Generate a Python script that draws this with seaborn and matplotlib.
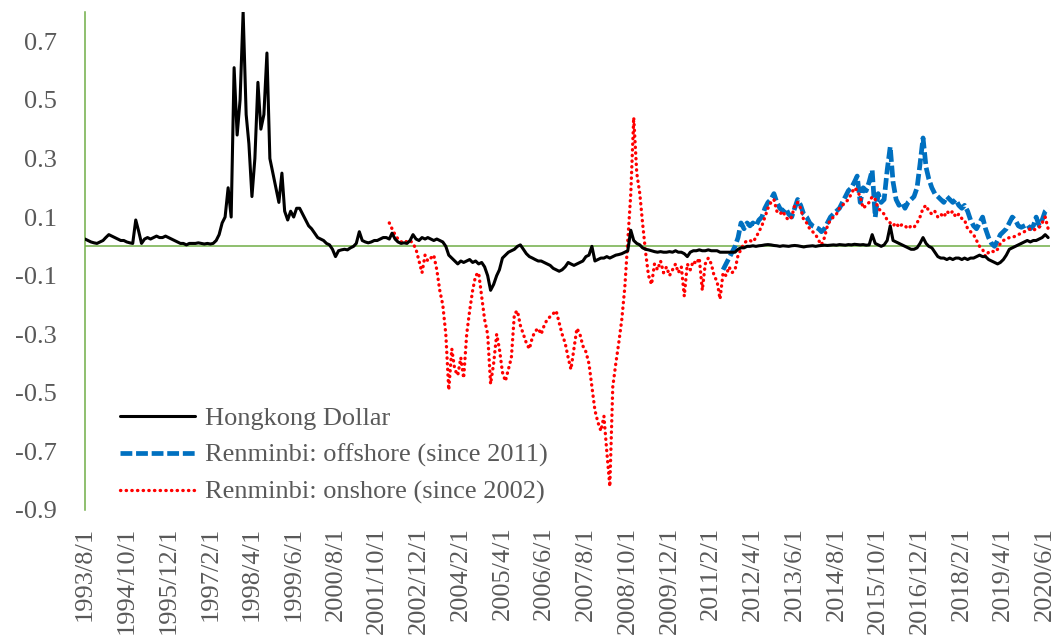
import pandas as pd
import matplotlib
matplotlib.use("Agg")
import matplotlib.pyplot as plt
import seaborn as sns

# monthly values
# Hongkong Dollar, from 1993/8
hkd = [0.025, 0.02, 0.015, 0.012, 0.01, 0.015, 0.02, 0.03, 0.04, 0.035, 0.03, 0.025, 0.02, 0.02, 0.015, 0.012, 0.01,
       0.09, 0.05, 0.01, 0.025, 0.03, 0.025, 0.03, 0.035, 0.03, 0.03, 0.035, 0.03, 0.025, 0.02, 0.015, 0.01, 0.01,
       0.005, 0.01, 0.01, 0.01, 0.012, 0.01, 0.008, 0.01, 0.008, 0.01, 0.02, 0.04, 0.08, 0.1, 0.2, 0.1,
       0.61, 0.38, 0.5, 0.8, 0.45, 0.35, 0.17, 0.3, 0.56, 0.4, 0.45, 0.66, 0.3, 0.25, 0.2, 0.15, 0.25, 0.12,
       0.09, 0.12, 0.1, 0.13, 0.13, 0.11, 0.09, 0.07, 0.06, 0.045, 0.03, 0.025, 0.02, 0.01, 0.005, -0.01, -0.035, -0.015,
       -0.012, -0.01, -0.012, -0.005, 0.0, 0.01, 0.05, 0.02, 0.015, 0.012, 0.015, 0.02, 0.02, 0.025, 0.03, 0.03,
       0.025, 0.045, 0.025, 0.015, 0.01, 0.012, 0.01, 0.02, 0.04, 0.025, 0.02, 0.03, 0.025, 0.03, 0.025, 0.02,
       0.025, 0.02, 0.015, 0.0, -0.03, -0.04, -0.05, -0.06, -0.05, -0.055, -0.05, -0.045, -0.055, -0.05, -0.06,
       -0.055, -0.07, -0.1, -0.15, -0.13, -0.1, -0.08, -0.04, -0.03, -0.02, -0.015, -0.01, 0.0, 0.005, -0.01,
       -0.025, -0.035, -0.04,
       -0.045, -0.05, -0.05, -0.055, -0.06, -0.065, -0.075, -0.08, -0.085, -0.08, -0.07, -0.055, -0.06, -0.065,
       -0.06, -0.055, -0.05, -0.035, -0.03, 0.0, -0.05, -0.045, -0.04, -0.04, -0.035, -0.04, -0.035, -0.03,
       -0.028, -0.025, -0.02, -0.015, 0.055, 0.02, 0.01, 0.005, -0.005, -0.01, -0.012, -0.015, -0.018, -0.02,
       -0.018, -0.02, -0.02, -0.018, -0.02, -0.015, -0.02, -0.02, -0.025, -0.035, -0.02, -0.015, -0.015, -0.012,
       -0.015, -0.015, -0.012, -0.015,
       -0.015, -0.015, -0.02, -0.02, -0.02, -0.02, -0.02, -0.02, -0.01, -0.005, -0.005, 0.0, 0.0, 0.002, 0.0,
       0.002, 0.003, 0.005, 0.006, 0.005, 0.003, 0.002, 0.0, 0.002, 0.001, 0.0, 0.002, 0.003, 0.002, 0.0, -0.002,
       0.0, 0.001, 0.002, 0.0, 0.002, 0.003, 0.004, 0.003, 0.004, 0.005, 0.004, 0.006, 0.005, 0.004, 0.006, 0.005,
       0.007, 0.006, 0.005, 0.006, 0.004, 0.005,
       0.04, 0.01, 0.005, 0.0, 0.005, 0.02, 0.07, 0.02, 0.015, 0.01, 0.005, 0.0, -0.005, -0.01, -0.01, -0.005,
       0.01, 0.03, 0.01, 0.0, -0.005, -0.02, -0.035, -0.04, -0.04, -0.045, -0.04, -0.045, -0.04, -0.04, -0.045,
       -0.04, -0.045, -0.04, -0.04, -0.035, -0.03, -0.035, -0.035, -0.045, -0.05, -0.055, -0.06, -0.055, -0.045,
       -0.03, -0.01, -0.005, 0.0, 0.005, 0.01, 0.015, 0.02, 0.015, 0.02, 0.02, 0.025, 0.03, 0.04, 0.03]

# Renminbi offshore, from 2011/6
cnh = [-0.08, -0.06, -0.04, -0.02, 0.0, 0.03, 0.08, 0.06, 0.08, 0.07,
       0.08, 0.07, 0.09, 0.1, 0.13, 0.15, 0.16, 0.18, 0.15, 0.13,
       0.12, 0.13, 0.11, 0.1, 0.13, 0.16, 0.14, 0.11, 0.1, 0.08,
       0.07, 0.065, 0.06, 0.05, 0.06, 0.08, 0.1, 0.11, 0.12, 0.13,
       0.15, 0.17, 0.19, 0.2, 0.22, 0.24, 0.15, 0.2, 0.19, 0.22,
       0.26, 0.1, 0.18, 0.15, 0.16, 0.26, 0.34, 0.22, 0.16, 0.14,
       0.15, 0.13, 0.15, 0.16, 0.17, 0.2, 0.28, 0.37, 0.27, 0.23,
       0.2, 0.18, 0.17, 0.16, 0.15, 0.17, 0.16, 0.15, 0.16, 0.14,
       0.13, 0.14, 0.12, 0.09, 0.07, 0.06, 0.08, 0.1, 0.06, 0.03,
       0.01, 0.0, 0.02, 0.04, 0.05, 0.06, 0.08, 0.1, 0.09, 0.07,
       0.065, 0.07, 0.075, 0.06, 0.07, 0.1, 0.07, 0.09, 0.12, 0.13]

# Renminbi onshore, from 2002/2
cny = [0.08, 0.06, 0.04, 0.025, 0.015, 0.02, 0.015, 0.02, 0.01, -0.01, -0.05, -0.09, -0.03, -0.05, -0.04,
       -0.03, -0.08, -0.15, -0.2, -0.3,
       -0.49, -0.35, -0.42, -0.44, -0.38, -0.45, -0.3, -0.22, -0.15, -0.1, -0.09, -0.17, -0.25, -0.3, -0.47,
       -0.4, -0.3, -0.35, -0.43, -0.46, -0.42, -0.38, -0.23, -0.22, -0.27, -0.3, -0.33, -0.35, -0.31,
       -0.29, -0.28, -0.3, -0.27, -0.25, -0.24, -0.23, -0.22, -0.26, -0.3, -0.33, -0.38, -0.42, -0.35, -0.28,
       -0.3, -0.34, -0.36, -0.4, -0.48, -0.56, -0.6, -0.63, -0.58, -0.7, -0.82, -0.48, -0.4, -0.33, -0.25, -0.14,
       0.02, 0.18, 0.44, 0.25, 0.18, 0.08, -0.02, -0.1, -0.13, -0.06, -0.08, -0.05, -0.09, -0.07, -0.1, -0.08,
       -0.06, -0.09, -0.07, -0.17, -0.06, -0.08, -0.05, -0.06, -0.04, -0.15, -0.06, -0.04, -0.06, -0.1, -0.12,
       -0.18, -0.09, -0.1, -0.07, -0.09, -0.08,
       -0.03, -0.01, 0.01, 0.02, 0.02, 0.015, 0.03, 0.05, 0.07, 0.1, 0.13, 0.15, 0.16, 0.12, 0.11, 0.12, 0.1,
       0.09, 0.1, 0.14, 0.15, 0.13, 0.09, 0.08, 0.06, 0.05, 0.04, 0.02, 0.005, 0.03, 0.07, 0.09, 0.1, 0.11,
       0.13, 0.14, 0.15, 0.16, 0.18, 0.2, 0.19, 0.17,
       0.13, 0.14, 0.15, 0.17, 0.16, 0.13, 0.12, 0.11, 0.09, 0.08, 0.07, 0.08, 0.065, 0.075, 0.07, 0.06, 0.07,
       0.065, 0.08, 0.1, 0.13, 0.14, 0.12, 0.11, 0.12, 0.1, 0.11, 0.1, 0.12, 0.11, 0.12, 0.1, 0.11, 0.095, 0.09,
       0.06, 0.05, 0.04, 0.02, 0.0, -0.01, -0.035, -0.02, -0.015, -0.02, -0.01, 0.01, 0.02, 0.025, 0.03, 0.03,
       0.035, 0.04, 0.045, 0.05, 0.055, 0.06, 0.055, 0.06, 0.065, 0.08, 0.1, 0.06]

tick_labels = ["1993/8/1", "1994/10/1", "1995/12/1", "1997/2/1", "1998/4/1", "1999/6/1",
               "2000/8/1", "2001/10/1", "2002/12/1", "2004/2/1", "2005/4/1", "2006/6/1",
               "2007/8/1", "2008/10/1", "2009/12/1", "2011/2/1", "2012/4/1", "2013/6/1",
               "2014/8/1", "2015/10/1", "2016/12/1", "2018/2/1", "2019/4/1", "2020/6/1"]

hkd_dates = pd.date_range("1993-08-01", periods=len(hkd), freq="MS")
cnh_dates = pd.date_range("2011-06-01", periods=len(cnh), freq="MS")
cny_dates = pd.date_range("2002-02-01", periods=len(cny), freq="MS")

sns.set_style("white")
plt.rcParams["font.family"] = ["Liberation Serif", "DejaVu Serif"]

fig = plt.figure(figsize=(10.59, 6.39), dpi=100)
ax = fig.add_axes([85 / 1059, 1 - 510 / 639, 965 / 1059, 498 / 639])

green = "#70AD47"
ax.axhline(0, color=green, lw=1.1, zorder=1)

sns.lineplot(x=hkd_dates, y=hkd, ax=ax, color="black", lw=2.2, label="Hongkong Dollar", zorder=4)
sns.lineplot(x=cnh_dates, y=cnh, ax=ax, color="#0070C0", lw=3.4, linestyle=(0, (2.5, 0.8)),
             label="Renminbi: offshore (since 2011)", zorder=2)
sns.lineplot(x=cny_dates, y=cny, ax=ax, color="#FF0000", lw=2.4, linestyle=(0, (0.1, 1.6)),
             dash_capstyle="round", label="Renminbi: onshore (since 2002)", zorder=3)

ax.set_ylim(-0.9, 0.8)
ax.set_yticks([-0.9, -0.7, -0.5, -0.3, -0.1, 0.1, 0.3, 0.5, 0.7])
ax.set_yticklabels(["-0.9", "-0.7", "-0.5", "-0.3", "-0.1", "0.1", "0.3", "0.5", "0.7"])
ax.set_xlim(pd.Timestamp("1993-08-01"), pd.Timestamp("2020-07-20"))
ax.set_xticks(pd.to_datetime(tick_labels, format="%Y/%m/%d"))
ax.set_xticklabels(tick_labels, rotation=90)
ax.set_xlabel("")
ax.set_ylabel("")

for s in ["top", "right", "bottom"]:
    ax.spines[s].set_visible(False)
ax.spines["left"].set_color(green)
ax.spines["left"].set_linewidth(1.1)

ax.tick_params(axis="both", length=0, labelsize=19, colors="#595959")
ax.tick_params(axis="y", pad=20)
ax.tick_params(axis="x", pad=12)

ax.legend(loc="lower left", bbox_to_anchor=(0.025, -0.01), borderaxespad=0, frameon=False,
          fontsize=19, labelcolor="#595959", handlelength=2.85, handletextpad=0.4, labelspacing=0.5)

fig.savefig("out.png", dpi=100)
